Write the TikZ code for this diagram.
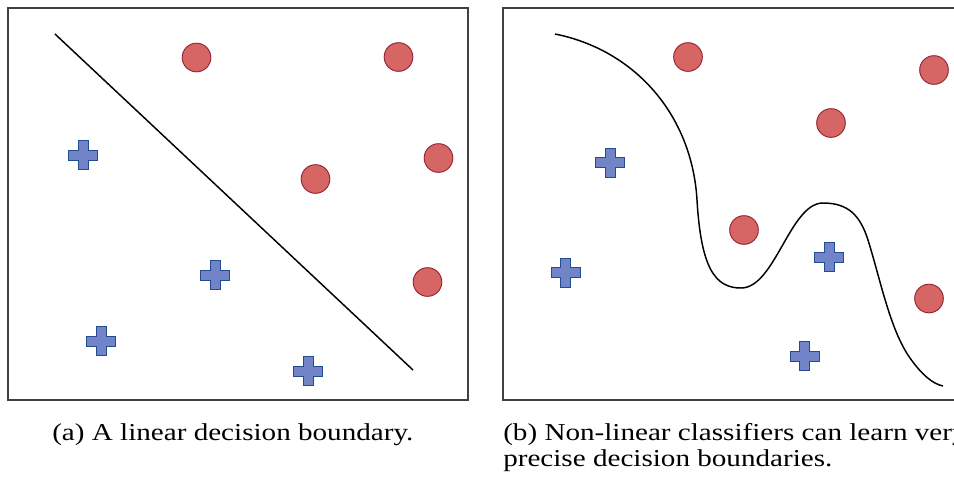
\documentclass[tikz,border=0pt]{standalone}
\usepackage{fontspec}
\setmainfont{Liberation Serif}[FakeStretch=1.2]
\definecolor{dotfill}{RGB}{213,102,99}
\definecolor{dotdraw}{RGB}{150,35,55}
\definecolor{crossfill}{RGB}{114,132,200}
\definecolor{crossdraw}{RGB}{35,75,145}
\tikzset{
  panel/.style={draw=black!75, line width=0.8pt},
  dot/.style={circle, fill=dotfill, draw=dotdraw, line width=0.7pt, minimum size=21.5pt, inner sep=0pt},
  crossstyle/.style={fill=crossfill, draw=crossdraw, line width=0.7pt, line join=miter},
  plus/.pic={\draw[crossstyle] (-14.5,-5) -- (-5,-5) -- (-5,-14.5) -- (5,-14.5) -- (5,-5) -- (14.5,-5) -- (14.5,5) -- (5,5) -- (5,14.5) -- (-5,14.5) -- (-5,5) -- (-14.5,5) -- cycle;},
  boundary/.style={draw=black, line width=1.1pt},
  caption/.style={font=\fontsize{18.2}{19}\selectfont, inner sep=0pt, anchor=base west}
}
\begin{document}
\begin{tikzpicture}[x=0.75pt, y=-0.75pt]
\useasboundingbox (0,0) rectangle (954,480);
\clip (0,0) rectangle (954,480);
% left panel
\draw[panel] (8,8) rectangle (468,400);
\coordinate (la) at (55,34);
\coordinate (lb) at (413,370);
\draw[boundary] (la) -- (lb);
\node[dot] (l1) at (196.5,57.5) {};
\node[dot] (l2) at (398.5,57) {};
\node[dot] (l3) at (315.5,179) {};
\node[dot] (l4) at (438.5,158) {};
\node[dot] (l5) at (427.5,282) {};
\pic at (83,155) {plus};
\pic at (215,275) {plus};
\pic at (101,341) {plus};
\pic at (308,371) {plus};
% right panel
\draw[panel] (1000,8) -- (503,8) -- (503,400) -- (1000,400);
\coordinate (ra) at (555,34);
\coordinate (rb) at (943,386);
\draw[boundary] (ra) .. controls (635,50) and (692,115) .. (697,200)
  .. controls (701,268) and (715,288) .. (741,288)
  .. controls (775,288) and (790,203) .. (823,203)
  .. controls (848,203) and (860,215) .. (868,240)
  .. controls (880,278) and (890,330) .. (910,358)
  .. controls (922,375) and (933,384) .. (rb);
\node[dot] (r1) at (688,57) {};
\node[dot] (r2) at (934,70) {};
\node[dot] (r3) at (831,123) {};
\node[dot] (r4) at (744,230) {};
\node[dot] (r5) at (929,298.5) {};
\pic at (610,162.5) {plus};
\pic at (565.5,272.5) {plus};
\pic at (829,257) {plus};
\pic at (804.5,356) {plus};
% captions
\node[caption] (capa) at (52,440) {(a) A linear decision boundary.};
\node[caption] (capb) at (503,440) {(b) Non-linear classifiers can learn very};
\node[caption] (capc) at (503,466) {precise decision boundaries.};
\end{tikzpicture}
\end{document}
